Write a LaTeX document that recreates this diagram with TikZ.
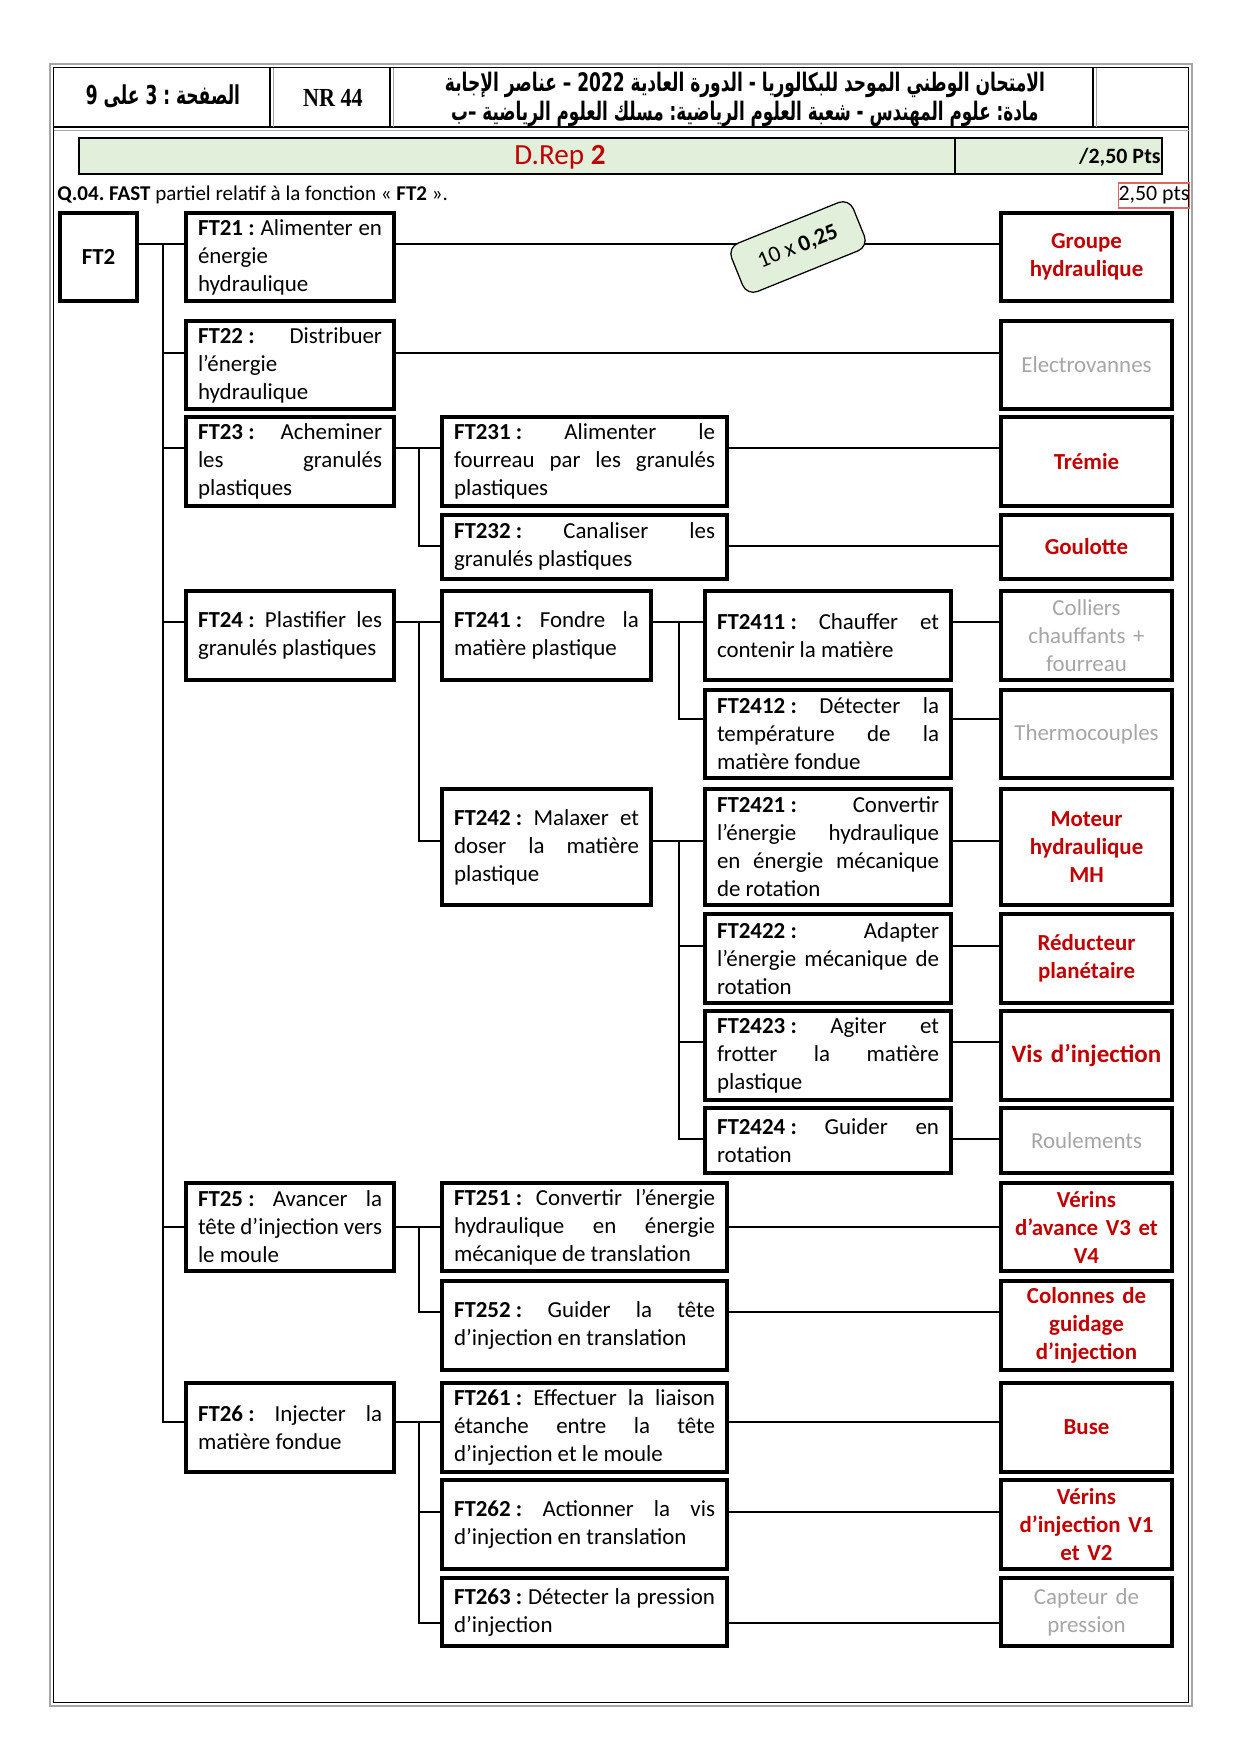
\documentclass[tikz,border=0pt]{standalone}
\usepackage{fontspec}
\usepackage{graphicx}
\setmainfont{Carlito}
\newfontfamily\arabicfont[Script=Arabic]{DejaVu Sans}
\newfontfamily\timesf{Liberation Serif}
\TeXXeTstate=1
\definecolor{redA}{HTML}{C00000}
\definecolor{greyT}{HTML}{A6A6A6}
\definecolor{greenF}{HTML}{E2EFDA}
\definecolor{redB}{HTML}{E06666}
\newcommand\jl[1]{\hbox to\fnt{#1}}
\newcommand\jlast[1]{\hbox to\fnt{#1\hfil}}
\newcommand\ft[1]{\textbf{#1\kern0.23em:}}
\tikzset{
  fbox/.style={draw=black, line width=1.5pt, rectangle, inner xsep=5.76pt, inner ysep=0pt,
    font=\fontsize{11}{13.44}\selectfont, anchor=center},
  rbox/.style={draw=black, line width=1.5pt, rectangle, inner xsep=2pt, inner ysep=0pt,
    align=center, font=\fontsize{11}{13.44}\selectfont, anchor=center},
  ans/.style={text=redA, font=\bfseries\fontsize{11}{13.44}\selectfont},
  giv/.style={text=greyT, font=\fontsize{11}{13.44}\selectfont},
  conn/.style={line width=1.25pt, line cap=rect},
}
\newcommand\fnode[6]{%
  \pgfmathsetlengthmacro\fnw{(#4-#2)*0.48pt}%
  \pgfmathsetlengthmacro\fnh{(#5-#3)*0.48pt}%
  \pgfmathsetlengthmacro\fnt{(#4-#2-24)*0.48pt}%
  \node[fbox, minimum width=\fnw, minimum height=\fnh] (#1) at ({(#2+#4)/2},{(#3+#5)/2}) {\vbox{#6}};}
\newcommand\rnode[7]{%
  \pgfmathsetlengthmacro\fnw{(#4-#2)*0.48pt}%
  \pgfmathsetlengthmacro\fnh{(#5-#3)*0.48pt}%
  \pgfmathsetlengthmacro\fnt{(#4-#2-10)*0.48pt}%
  \node[rbox, minimum width=\fnw, minimum height=\fnh, text width=\fnt, #6] (#1) at ({(#2+#4)/2},{(#3+#5)/2}) {#7};}
\begin{document}
\frenchspacing
\begin{tikzpicture}[x=0.48pt,y=-0.48pt]
\useasboundingbox (0,0) rectangle (1240,1754);
\fill[white] (0,0) rectangle (1240,1754);
% page frame
\draw[gray!70, line width=1pt] (50,64) rectangle (1192,1706);
\draw[black, line width=0.8pt] (53.5,67.5) rectangle (1188.5,1702.5);
\draw[black, line width=0.7pt] (53.5,127) -- (1188.5,127);
\draw[gray!70, line width=0.7pt] (53.5,130.5) -- (1188.5,130.5);
\foreach \sx in {270,390,1093}{
  \draw[black, line width=0.7pt] (\sx,67.5) -- (\sx,127);
  \draw[gray!70, line width=0.7pt] (\sx+3.5,67.5) -- (\sx+3.5,127);
}
% header texts
\node[inner sep=0pt] (pg) at (163,96) {\resizebox{74pt}{9.5pt}{\arabicfont\bfseries\beginR الصفحة : 3 على 9\endR}};
\node[inner sep=0pt] (nr) at (333,98) {\scalebox{0.85}[1]{\timesf\bfseries\fontsize{12.5}{14}\selectfont NR 44}};
\node[inner sep=0pt, anchor=base] (ar1) at (745,91) {\resizebox{288pt}{9.3pt}{\arabicfont\bfseries\beginR الامتحان الوطني الموحد للبكالوريا - الدورة العادية \beginL 2022\endL{} – عناصر الإجابة\endR}};
\node[inner sep=0pt, anchor=base] (ar2) at (745,120) {\resizebox{282pt}{9.3pt}{\arabicfont\bfseries\beginR مادة: علوم المهندس - شعبة العلوم الرياضية: مسلك العلوم الرياضية –ب\endR}};
% green bar
\draw[fill=greenF, line width=0.6pt] (79,138) rectangle (1162,174);
\draw[line width=0.6pt] (955,138) -- (955,174);
\node[text=redA, font=\fontsize{14}{16}\selectfont] (drep) at (560,157) {D.Rep \textbf{2}};
\node[anchor=east, inner sep=0pt, font=\bfseries\fontsize{10.5}{12}\selectfont] (pts) at (1161,157) {/2,50 Pts};
% question
\node[anchor=west, inner sep=0pt, font=\fontsize{10.1}{12.5}\selectfont] (q) at (57,195) {\textbf{Q.04. FAST} partiel relatif à la fonction « \textbf{FT2} ».};
\node[draw=redB, line width=0.6pt, inner sep=0pt, minimum width=33.5pt, minimum height=12pt, font=\fontsize{10.5}{12.5}\selectfont] (bar) at (1154,195.5) {2,50 pts};
% FT2
\rnode{FT2}{60}{213}{137}{301}{font=\bfseries\fontsize{11}{13.44}\selectfont}{FT2}
% column 1
\fnode{FT21}{186}{213}{394}{301}{\jl{\ft{FT21} Alimenter en}\jlast{énergie}\jlast{hydraulique}}
\fnode{FT22}{186}{321}{394}{409}{\jl{\ft{FT22} Distribuer}\jlast{l’énergie}\jlast{hydraulique}}
\fnode{FT23}{186}{417}{394}{506}{\jl{\ft{FT23} Acheminer}\jl{les granulés}\jlast{plastiques}}
\fnode{FT24}{186}{591}{394}{680}{\jl{\ft{FT24} Plastifier les}\jlast{granulés plastiques}}
\fnode{FT25}{186}{1183}{394}{1271}{\jl{\ft{FT25} Avancer la}\jl{tête d’injection vers}\jlast{le moule}}
\fnode{FT26}{186}{1383}{394}{1472}{\jl{\ft{FT26} Injecter la}\jlast{matière fondue}}
% column 2
\fnode{FT231}{442}{417}{727}{506}{\jl{\ft{FT231} Alimenter le}\jl{fourreau par les granulés}\jlast{plastiques}}
\fnode{FT232}{442}{515}{727}{579}{\jl{\ft{FT232} Canaliser les}\jlast{granulés plastiques}}
\fnode{FT241}{442}{591}{651}{680}{\jl{\ft{FT241} Fondre la}\jlast{matière plastique}}
\fnode{FT242}{442}{789}{651}{905}{\jl{\ft{FT242} Malaxer et}\jl{doser la matière}\jlast{plastique}}
\fnode{FT251}{442}{1183}{727}{1271}{\jl{\ft{FT251} Convertir l’énergie}\jl{hydraulique en énergie}\jlast{mécanique de translation}}
\fnode{FT252}{442}{1281}{727}{1370}{\jl{\ft{FT252} Guider la tête}\jlast{d’injection en translation}}
\fnode{FT261}{442}{1383}{727}{1472}{\jl{\ft{FT261} Effectuer la liaison}\jl{étanche entre la tête}\jlast{d’injection et le moule}}
\fnode{FT262}{442}{1480}{727}{1569}{\jl{\ft{FT262} Actionner la vis}\jlast{d’injection en translation}}
\fnode{FT263}{442}{1578}{727}{1646}{\jl{\ft{FT263} Détecter la pression}\jlast{d’injection}}
% column 3
\fnode{FT2411}{705}{591}{951}{680}{\jl{\ft{FT2411} Chauffer et}\jlast{contenir la matière}}
\fnode{FT2412}{705}{690}{951}{778}{\jl{\ft{FT2412} Détecter la}\jl{température de la}\jlast{matière fondue}}
\fnode{FT2421}{705}{789}{951}{905}{\jl{\ft{FT2421} Convertir}\jl{l’énergie hydraulique}\jl{en énergie mécanique}\jlast{de rotation}}
\fnode{FT2422}{705}{914}{951}{1003}{\jl{\ft{FT2422} Adapter}\jl{l’énergie mécanique de}\jlast{rotation}}
\fnode{FT2423}{705}{1011}{951}{1100}{\jl{\ft{FT2423} Agiter et}\jl{frotter la matière}\jlast{plastique}}
\fnode{FT2424}{705}{1108}{951}{1173}{\jl{\ft{FT2424} Guider en}\jlast{rotation}}
% right column
\rnode{R1}{1001}{213}{1172}{301}{ans}{Groupe\\hydraulique}
\rnode{R2}{1001}{321}{1172}{409}{giv}{Electrovannes}
\rnode{R3}{1001}{417}{1172}{506}{ans}{Trémie}
\rnode{R4}{1001}{515}{1172}{579}{ans}{Goulotte}
\rnode{R5}{1001}{591}{1172}{680}{giv}{Colliers\\chauffants +\\fourreau}
\rnode{R6}{1001}{690}{1172}{778}{giv}{Thermocouples}
\rnode{R7}{1001}{789}{1172}{905}{ans}{Moteur\\hydraulique\\MH}
\rnode{R8}{1001}{914}{1172}{1003}{ans}{Réducteur\\planétaire}
\rnode{R9}{1001}{1011}{1172}{1100}{ans, font=\bfseries\fontsize{12}{14}\selectfont}{Vis d’injection}
\rnode{R10}{1001}{1108}{1172}{1173}{giv}{Roulements}
\rnode{R11}{1001}{1183}{1172}{1271}{ans}{Vérins\\d’avance V3 et\\V4}
\rnode{R12}{1001}{1281}{1172}{1370}{ans}{Colonnes de\\guidage\\d’injection}
\rnode{R13}{1001}{1383}{1172}{1472}{ans}{Buse}
\rnode{R14}{1001}{1480}{1172}{1569}{ans}{Vérins\\d’injection V1\\et V2}
\rnode{R15}{1001}{1578}{1172}{1646}{giv}{Capteur de\\pression}
% levels
\coordinate (y21) at (0,244);
\coordinate (y22) at (0,353);
\coordinate (y23) at (0,448);
\coordinate (y232) at (0,546);
\coordinate (y24) at (0,622);
\coordinate (y2412) at (0,719);
\coordinate (y242) at (0,841);
\coordinate (y2422) at (0,946);
\coordinate (y2423) at (0,1042);
\coordinate (y2424) at (0,1139);
\coordinate (y25) at (0,1227);
\coordinate (y252) at (0,1312);
\coordinate (y26) at (0,1422);
\coordinate (y262) at (0,1512);
\coordinate (y263) at (0,1623);
\coordinate (t1) at (163,0);
\coordinate (t2) at (419,0);
\coordinate (t3) at (679,0);
% connectors
\draw[conn] (FT2.east|-y21) -- (FT21.west|-y21);
\draw[conn] (t1|-y21) -- (t1|-y26);
\foreach \n/\l in {FT22/y22,FT23/y23,FT24/y24,FT25/y25,FT26/y26}
  \draw[conn] (t1|-\l) -- (\n.west|-\l);
\draw[conn] (FT21.east|-y21) -- (R1.west|-y21);
\draw[conn] (FT22.east|-y22) -- (R2.west|-y22);
\draw[conn] (FT23.east|-y23) -- (FT231.west|-y23);
\draw[conn] (t2|-y23) -- (t2|-y232) -- (FT232.west|-y232);
\draw[conn] (FT231.east|-y23) -- (R3.west|-y23);
\draw[conn] (FT232.east|-y232) -- (R4.west|-y232);
\draw[conn] (FT24.east|-y24) -- (FT241.west|-y24);
\draw[conn] (t2|-y24) -- (t2|-y242) -- (FT242.west|-y242);
\draw[conn] (FT241.east|-y24) -- (FT2411.west|-y24);
\draw[conn] (t3|-y24) -- (t3|-y2412) -- (FT2412.west|-y2412);
\draw[conn] (FT242.east|-y242) -- (FT2421.west|-y242);
\draw[conn] (t3|-y242) -- (t3|-y2424) -- (FT2424.west|-y2424);
\draw[conn] (t3|-y2422) -- (FT2422.west|-y2422);
\draw[conn] (t3|-y2423) -- (FT2423.west|-y2423);
\draw[conn] (FT2411.east|-y24) -- (R5.west|-y24);
\draw[conn] (FT2412.east|-y2412) -- (R6.west|-y2412);
\draw[conn] (FT2421.east|-y242) -- (R7.west|-y242);
\draw[conn] (FT2422.east|-y2422) -- (R8.west|-y2422);
\draw[conn] (FT2423.east|-y2423) -- (R9.west|-y2423);
\draw[conn] (FT2424.east|-y2424) -- (R10.west|-y2424);
\draw[conn] (FT25.east|-y25) -- (FT251.west|-y25);
\draw[conn] (t2|-y25) -- (t2|-y252) -- (FT252.west|-y252);
\draw[conn] (FT251.east|-y25) -- (R11.west|-y25);
\draw[conn] (FT252.east|-y252) -- (R12.west|-y252);
\draw[conn] (FT26.east|-y26) -- (FT261.west|-y26);
\draw[conn] (t2|-y26) -- (t2|-y263) -- (FT263.west|-y263);
\draw[conn] (t2|-y262) -- (FT262.west|-y262);
\draw[conn] (FT261.east|-y26) -- (R13.west|-y26);
\draw[conn] (FT262.east|-y262) -- (R14.west|-y262);
\draw[conn] (FT263.east|-y263) -- (R15.west|-y263);
% score label
\node[draw=black, fill=greenF, line width=0.6pt, rounded corners=5.5pt, rotate=22,
  minimum width=63pt, minimum height=25pt, font=\fontsize{11}{13}\selectfont] (lbl) at (798,247) {10 x \textbf{0,25}};
\end{tikzpicture}
\end{document}
